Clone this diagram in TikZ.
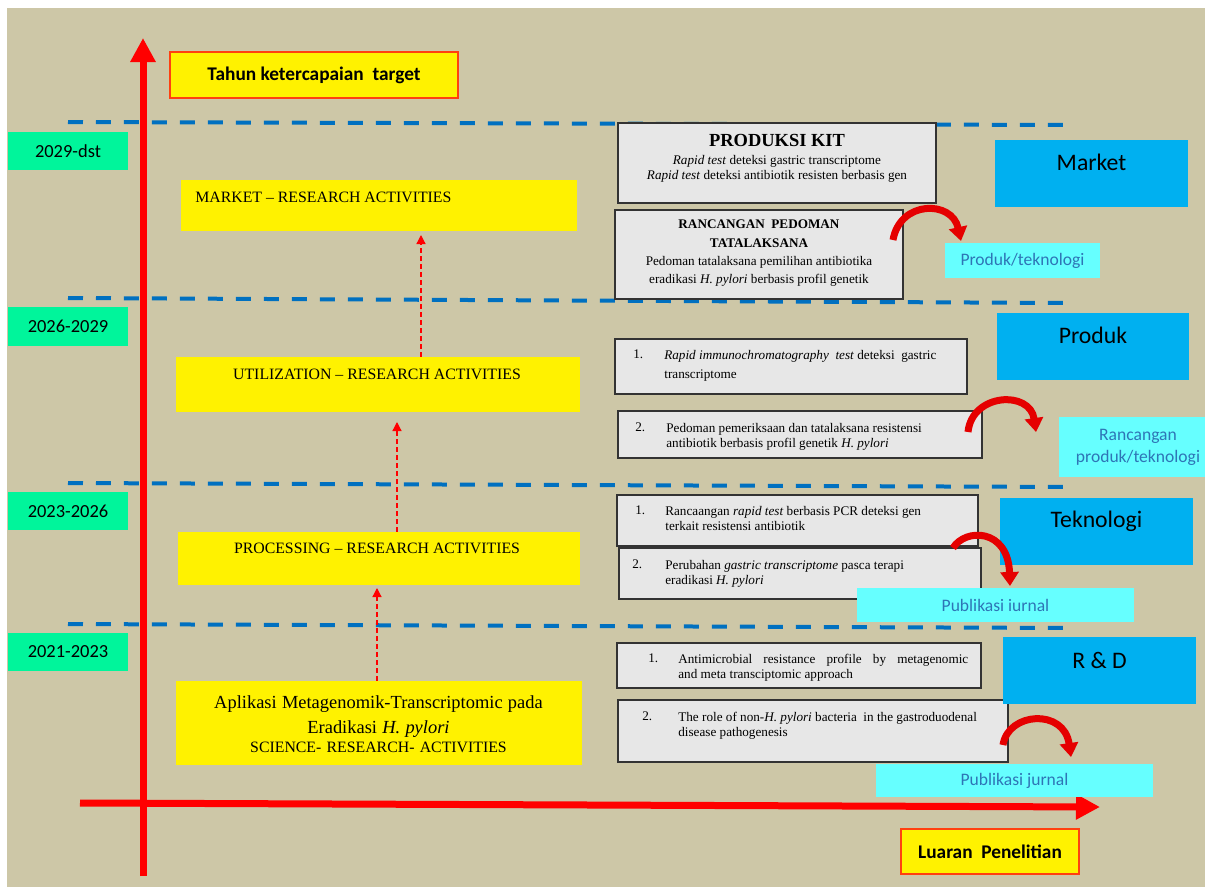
\documentclass[tikz,border=0pt]{standalone}
\usepackage{fontspec}
\setmainfont{Liberation Serif}
\newfontfamily\calibri{Carlito}
\usetikzlibrary{arrows.meta}
\definecolor{bgtan}{RGB}{205,199,167}
\definecolor{yeargreen}{RGB}{0,245,155}
\definecolor{lineblue}{RGB}{0,112,192}
\definecolor{catblue}{RGB}{0,176,240}
\definecolor{outcyan}{RGB}{102,255,255}
\definecolor{outblue}{RGB}{46,117,182}
\definecolor{boxgray}{RGB}{231,231,231}
\definecolor{keyred}{RGB}{255,64,16}

\begin{document}
\begin{tikzpicture}[x=0.02cm, y=-0.02cm,
  yearbox/.style={fill=yeargreen, inner sep=0, minimum width=2.42cm, minimum height=0.77cm,
    font=\calibri\fontsize{10.5}{12}\selectfont},
  keybox/.style={fill=yellow, draw=keyred, line width=0.035cm, inner sep=0,
    font=\calibri\bfseries\fontsize{11}{13}\selectfont},
  actbox/.style={fill=yellow, inner sep=0},
  acttext/.style={inner sep=0, font=\fontsize{9}{11}\selectfont},
  kitbox/.style={fill=boxgray, draw=black!80, line width=0.03cm, inner sep=0},
  kittext/.style={inner sep=0, font=\fontsize{7.5}{8.6}\selectfont},
  catbox/.style={fill=catblue, inner sep=0, minimum width=3.86cm, minimum height=1.34cm},
  cattext/.style={inner sep=0, font=\calibri\fontsize{13.5}{16}\selectfont},
  outbox/.style={fill=outcyan, inner sep=0, align=center, text=outblue,
    font=\calibri\fontsize{10}{12.5}\selectfont},
  yearline/.style={draw=lineblue, line width=0.08cm, dash pattern=on 0.3cm off 0.26cm},
  axis/.style={red, line width=0.14cm, -{Triangle[width=0.48cm,length=0.48cm]}},
  steparrow/.style={red, line width=0.025cm, dash pattern=on 0.1cm off 0.06cm,
    -{Triangle[width=0.18cm,length=0.18cm]}},
  bendarrow/.style={draw=red!90!black, line width=0.14cm, -{Triangle[width=0.36cm,length=0.28cm]}}]
  % Background
  \fill[white] (0,0) rectangle (1205,887);
  \path[use as bounding box] (0,0) rectangle (1205,887);
  \clip (0,0) rectangle (1205,887);
  \fill[bgtan] (7,8) rectangle (1205,887);
  % Period lines
  \foreach \ya/\yb in {122/125, 298/303, 483/487, 624/628}
    \draw[yearline] (68,\ya) -- (1072,\yb);
  % Axes
  \coordinate (yaxis-bot) at (143,876);
  \coordinate (yaxis-top) at (143,38);
  \coordinate (xaxis-left) at (80,803);
  \coordinate (xaxis-right) at (1100,807);
  \draw[axis] (yaxis-bot) -- (yaxis-top);
  \draw[axis] (xaxis-left) -- (xaxis-right);
  % Axis captions
  \node[keybox, minimum width=5.76cm, minimum height=0.92cm] (tahun) at (314,75) {Tahun ketercapaian \ target};
  \node[keybox, minimum width=3.56cm, minimum height=0.9cm] (luaran) at (990,851.5) {Luaran \ Penelitian};
  % Periods
  \foreach \yr/\yc [count=\i] in {2029-dst/151, 2026-2029/326.5, 2023-2026/511, 2021-2023/652}
    \node[yearbox] (period\i) at (68,\yc) {\yr};
  % Research activities
  \node[actbox, minimum width=7.92cm, minimum height=1.02cm] (market) at (379,205.5) {};
  \node[acttext, anchor=west] (market-t) at (195,197) {MARKET -- RESEARCH ACTIVITIES};
  \node[actbox, minimum width=8.08cm, minimum height=1.1cm] (util) at (378,384.5) {};
  \node[acttext] (util-t) at (377,374) {UTILIZATION -- RESEARCH ACTIVITIES};
  \node[actbox, minimum width=8.04cm, minimum height=1.06cm] (proc) at (379,558.5) {};
  \node[acttext] (proc-t) at (377,548) {PROCESSING -- RESEARCH ACTIVITIES};
  \node[actbox, minimum width=8.12cm, minimum height=1.68cm] (science) at (379,723) {};
  \node[acttext, text width=8cm, align=center, anchor=north] (science-t) at (378.5,695.5)
    {\fontsize{10.5}{14.2}\selectfont Aplikasi Metagenomik-Transcriptomic pada\par
     Eradikasi \textit{H. pylori}\par
     \fontsize{9}{11.3}\selectfont SCIENCE- RESEARCH- ACTIVITIES};
  % Steps between activities
  \coordinate (util-tip) at (421,235);
  \coordinate (proc-tip) at (397,422);
  \coordinate (science-tip) at (377,588);
  \draw[steparrow] (util.north -| util-tip) -- (util-tip);
  \draw[steparrow] (proc.north -| proc-tip) -- (proc-tip);
  \draw[steparrow] (science.north -| science-tip) -- (science-tip);
  % Outputs per period
  \node[kitbox, minimum width=6.36cm, minimum height=1.6cm] (kit) at (777,163) {};
  \node[kittext, align=center, anchor=north] (kit-t) at (777,134)
    {{\fontsize{10.5}{12}\selectfont\bfseries PRODUKSI KIT}\\[1.4pt]
     \textit{Rapid test} deteksi gastric transcriptome\\
     \textit{Rapid test} deteksi antibiotik resisten berbasis gen};
  \node[kitbox, minimum width=5.76cm, minimum height=1.78cm] (pedoman) at (759,254.5) {};
  \node[kittext, align=center, anchor=north, font=\fontsize{7.5}{10.5}\selectfont] (pedoman-t) at (759,219.5)
    {\textbf{RANCANGAN \ PEDOMAN}\\ \textbf{TATALAKSANA}\\
     Pedoman tatalaksana pemilihan antibiotika\\
     eradikasi \textit{H. pylori} berbasis profil genetik};
  \node[kitbox, minimum width=7.04cm, minimum height=1.1cm] (prod1) at (791,366.5) {};
  \node[kittext, anchor=north west] (prod1-n) at (633,349.5) {1.};
  \node[kittext, anchor=north west, align=left, font=\fontsize{7.5}{11.3}\selectfont] (prod1-t) at (664,349.5)
    {\textit{Rapid immunochromatography} \ \textit{test} deteksi \ gastric\\ transcriptome};
  \node[kitbox, minimum width=7.28cm, minimum height=0.94cm] (prod2) at (800,434.5) {};
  \node[kittext, anchor=north west] (prod2-n) at (635,422.5) {2.};
  \node[kittext, anchor=north west, align=left] (prod2-t) at (666,422.5)
    {Pedoman pemeriksaan dan tatalaksana resistensi\\ antibiotik berbasis profil genetik \textit{H. pylori}};
  \node[kitbox, minimum width=7.22cm, minimum height=1.02cm] (tek1) at (797.5,520.5) {};
  \node[kittext, anchor=north west] (tek1-n) at (635,505.5) {1.};
  \node[kittext, anchor=north west, align=left] (tek1-t) at (665,505.5)
    {Rancaangan \textit{rapid test} berbasis PCR deteksi gen\\ terkait resistensi antibiotik};
  \node[kitbox, minimum width=7.24cm, minimum height=1.02cm] (tek2) at (800,573.5) {};
  \node[kittext, anchor=north west] (tek2-n) at (632,559.5) {2.};
  \node[kittext, anchor=north west, align=left] (tek2-t) at (665,559.5)
    {Perubahan \textit{gastric transcriptome} pasca terapi\\ eradikasi \textit{H. pylori}};
  \node[kitbox, minimum width=7.28cm, minimum height=0.9cm] (rd1) at (799,665.5) {};
  \node[kittext, anchor=north west] (rd1-n) at (648,653.5) {1.};
  \node[kittext, anchor=north west, align=left] (rd1-t) at (678,653.5)
    {\makebox[5.8cm][s]{Antimicrobial resistance profile by metagenomic}\\ and meta transciptomic approach};
  \node[kitbox, minimum width=7.8cm, minimum height=1.24cm] (rd2) at (813,731) {};
  \node[kittext, anchor=north west] (rd2-n) at (642,711.5) {2.};
  \node[kittext, anchor=north west, align=left] (rd2-t) at (678,711.5)
    {The role of non-\textit{H. pylori} bacteria \ in the gastroduodenal\\ disease pathogenesis};
  % Output categories
  \foreach \nm/\cx/\cy/\ty [count=\i] in {Market/1091.5/173.5/162, Produk/1093/346.5/335,
      Teknologi/1096.5/531.5/521, R \& D/1099.5/670/660} {
    \node[catbox] (cat\i) at (\cx,\cy) {};
    \node[cattext] (cat\i-t) at (\cx,\ty) {\nm};
  }
  % Output types
  \node[outbox, minimum width=3.1cm, minimum height=0.7cm] (out-prod) at (1022.5,260.5) {Produk/teknologi};
  \node[outbox, minimum width=3.16cm, minimum height=1.2cm] (out-design) at (1138,447) {Rancangan\\ produk/teknologi};
  \node[outbox, minimum width=5.54cm, minimum height=0.68cm] (out-pub1) at (995.5,605) {Publikasi iurnal};
  \node[outbox, minimum width=5.54cm, minimum height=0.66cm] (out-pub2) at (1014.5,780.5) {Publikasi jurnal};
  % Bent arrows towards output types
  \coordinate (bend1-a) at (893,240);  \coordinate (bend1-b) at (961,241);
  \coordinate (bend2-a) at (968,432);  \coordinate (bend2-b) at (1036,432);
  \coordinate (bend3-a) at (953,548);  \coordinate (bend3-b) at (1010,586);
  \coordinate (bend4-a) at (1003,745); \coordinate (bend4-b) at (1071,757);
  \draw[bendarrow] (bend1-a) .. controls +(7,-40) and +(-9,-41) .. (bend1-b);
  \draw[bendarrow] (bend2-a) .. controls +(4,-39) and +(-6,-42) .. (bend2-b);
  \draw[bendarrow] (bend3-a) .. controls +(12,-20) and +(-2,-58) .. (bend3-b);
  \draw[bendarrow] (bend4-a) .. controls +(5,-33) and +(-7,-49) .. (bend4-b);
\end{tikzpicture}
\end{document}
